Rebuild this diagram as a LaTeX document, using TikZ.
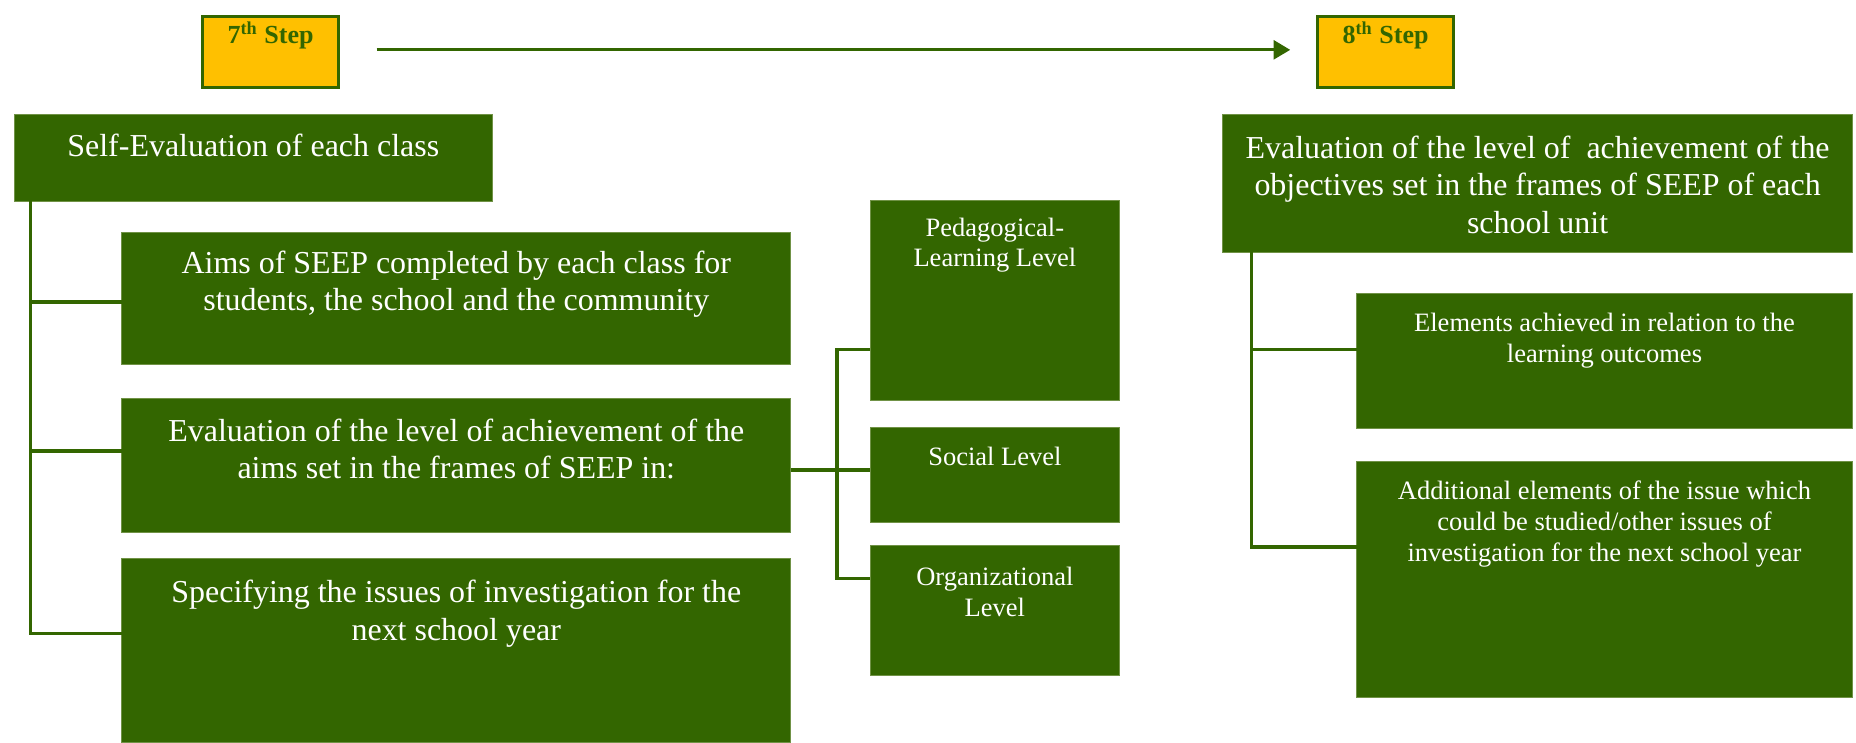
\documentclass[tikz,border=0pt]{standalone}
\usepackage{fontspec}
\setmainfont{Liberation Serif}
\usepackage{tikz}
\usetikzlibrary{arrows.meta, positioning}
\definecolor{seepgreen}{RGB}{51,102,0}
\definecolor{seepedge}{RGB}{112,146,70}
\definecolor{stepgold}{RGB}{255,192,0}

\begin{document}
\begin{tikzpicture}[x=0.5pt, y=-0.5pt,
    gbox/.style={fill=seepgreen, draw=seepedge, line width=0.4pt, inner sep=0pt, outer sep=0pt, anchor=north west},
    stepbox/.style={fill=stepgold, draw=seepgreen, line width=1.1pt, inner sep=0pt, anchor=north west, minimum width=57.5pt, minimum height=30pt},
    bigtxt/.style={text=white, font=\fontsize{13.5}{15.8}\selectfont, align=center, inner sep=0pt, anchor=north},
    smalltxt/.style={text=white, font=\fontsize{11.2}{13}\selectfont, align=center, inner sep=0pt, anchor=north},
    steptxt/.style={text=seepgreen, font=\fontsize{11}{13}\selectfont\bfseries, inner sep=0pt, anchor=base},
    link/.style={draw=seepgreen, line width=1.4pt},
    flow/.style={draw=seepgreen, line width=1.2pt, -{Triangle[length=7pt,width=8pt]}}]
        \useasboundingbox (0,0) rectangle (1568,627);
        % steps
        \node[stepbox] (step7) at (170,13) {};
        \node[stepbox] (step8) at (1112,13) {};
        \node[steptxt] (step7-t) at ([yshift=-12pt]step7.north) {7\textsuperscript{th} Step};
        \node[steptxt] (step8-t) at ([yshift=-12pt]step8.north) {8\textsuperscript{th} Step};
        \draw[flow] ([xshift=15.5pt,yshift=1pt]step7.east) -- ([xshift=-11pt,yshift=1pt]step8.west);
        % 7th step: class
        \node[gbox, minimum width=202pt, minimum height=36.5pt] (selfev) at (12,97) {};
        \node[gbox, minimum width=282.5pt, minimum height=56pt] (aims) at (103,196) {};
        \node[gbox, minimum width=282.5pt, minimum height=56.5pt] (evalaims) at (103,337) {};
        \node[gbox, minimum width=282.5pt, minimum height=77.5pt] (spec) at (103,472) {};
        \node[bigtxt] (selfev-t) at ([yshift=-8pt]selfev.north) {Self-Evaluation of each class};
        \node[bigtxt] (aims-t) at ([yshift=-7.75pt]aims.north) {Aims of SEEP completed by each class for\\students, the school and the community};
        \node[bigtxt] (evalaims-t) at ([yshift=-8.25pt]evalaims.north) {Evaluation of the level of achievement of the\\aims set in the frames of SEEP in:};
        \node[bigtxt] (spec-t) at ([yshift=-9pt]spec.north) {Specifying the issues of investigation for the\\next school year};
        \draw[link] ([xshift=7pt]selfev.south west) |- ([yshift=7.25pt]spec.west);
        \draw[link] ([yshift=-1.5pt]aims.west) -| ([xshift=7pt]selfev.south west);
        \draw[link] ([yshift=6.25pt]evalaims.west) -| ([xshift=7pt]selfev.south west);
        % levels
        \node[gbox, minimum width=105.5pt, minimum height=84.5pt] (peda) at (735,169) {};
        \node[gbox, minimum width=105.5pt, minimum height=40pt] (social) at (735,361) {};
        \node[gbox, minimum width=105.5pt, minimum height=55pt] (organ) at (735,461) {};
        \node[smalltxt] (peda-t) at ([yshift=-7.25pt]peda.north) {Pedagogical-\\Learning Level};
        \node[smalltxt] (social-t) at ([yshift=-8.25pt]social.north) {Social Level};
        \node[smalltxt] (organ-t) at ([yshift=-8.75pt]organ.north) {Organizational\\Level};
        \draw[link] ([yshift=-1.75pt]evalaims.east) -- ([yshift=2pt]social.west);
        \draw[link] ([yshift=-20.75pt]peda.west) -- ++(-14pt,0) |- ([yshift=13.5pt]organ.west);
        % 8th step: school unit
        \node[gbox, minimum width=266pt, minimum height=58pt] (evalobj) at (1033,97) {};
        \node[gbox, minimum width=209.5pt, minimum height=57pt] (elem) at (1146,248) {};
        \node[gbox, minimum width=209.5pt, minimum height=99.5pt] (addit) at (1146,390) {};
        \node[bigtxt] (evalobj-t) at ([yshift=-8.75pt]evalobj.north) {Evaluation of the level of~ achievement of the\\objectives set in the frames of SEEP of each\\school unit};
        \node[smalltxt] (elem-t) at ([yshift=-8.25pt]elem.north) {Elements achieved in relation to the\\learning outcomes};
        \node[smalltxt] (addit-t) at ([yshift=-8pt]addit.north) {Additional elements of the issue which\\could be studied/other issues of\\investigation for the next school year};
        \draw[link] ([xshift=12pt]evalobj.south west) |- ([yshift=13.75pt]addit.west);
        \draw[link] ([yshift=5pt]elem.west) -| ([xshift=12pt]evalobj.south west);
    \end{tikzpicture}
\end{document}
